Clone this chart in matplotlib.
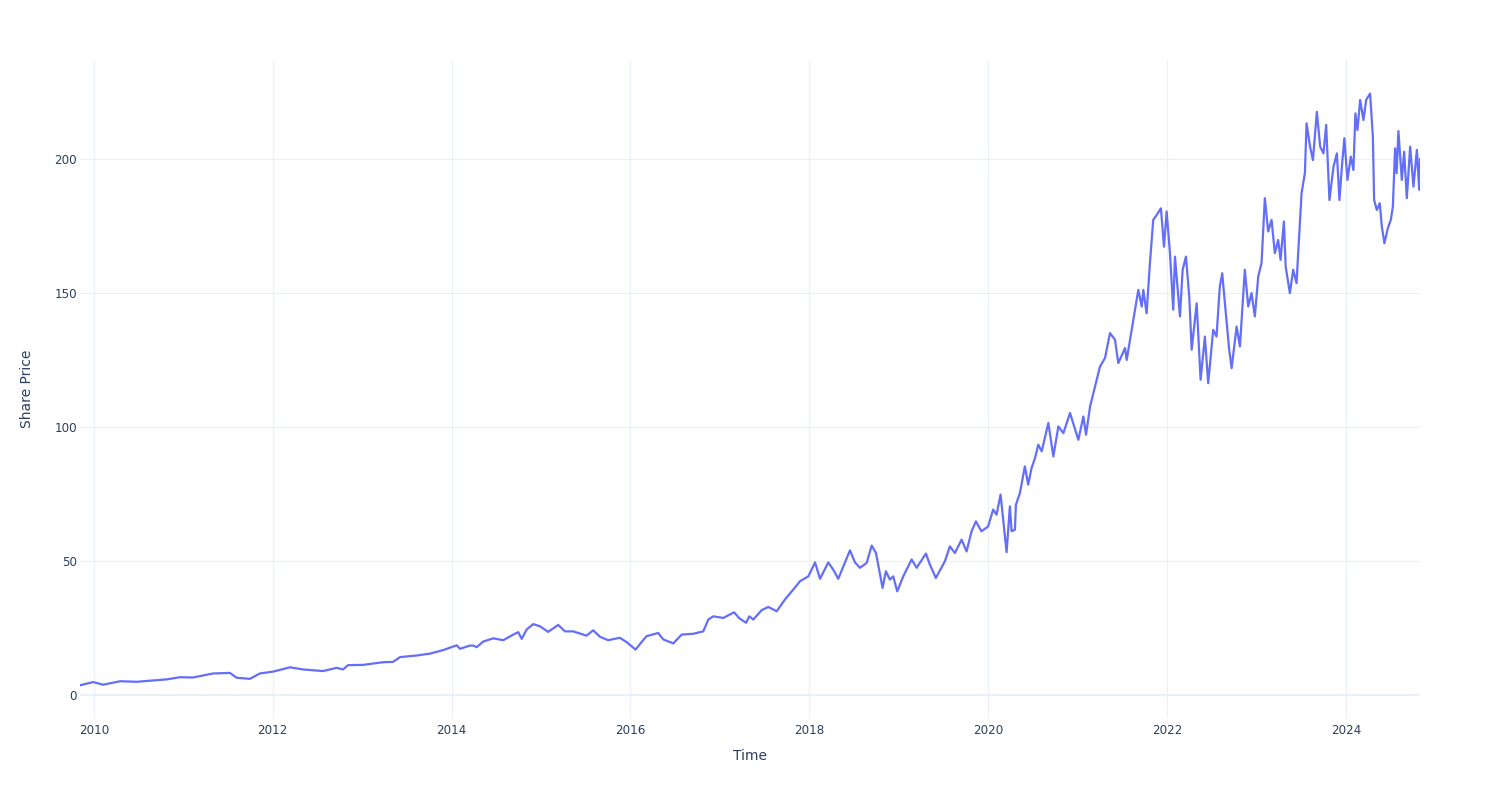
import matplotlib
matplotlib.use("Agg")
import matplotlib.pyplot as plt
import matplotlib.dates as mdates
import numpy as np
import pandas as pd

# decimal-year time stamps and share price values
years = [
    2009.843, 2009.992, 2010.101, 2010.291, 2010.477, 2010.660, 2010.813, 2010.962,
    2011.107, 2011.331, 2011.521, 2011.596, 2011.744, 2011.856, 2012.005, 2012.192,
    2012.337, 2012.561, 2012.714, 2012.784, 2012.840, 2013.008, 2013.232, 2013.343,
    2013.422, 2013.608, 2013.757, 2013.903, 2014.056, 2014.093, 2014.204, 2014.241,
    2014.279, 2014.353, 2014.465, 2014.577, 2014.689, 2014.745, 2014.783, 2014.839,
    2014.912, 2014.987, 2015.080, 2015.192, 2015.267, 2015.360, 2015.509, 2015.583,
    2015.658, 2015.751, 2015.882, 2015.957, 2016.057, 2016.124, 2016.180, 2016.310,
    2016.366, 2016.478, 2016.572, 2016.701, 2016.813, 2016.869, 2016.925, 2017.037,
    2017.157, 2017.216, 2017.291, 2017.328, 2017.372, 2017.466, 2017.540, 2017.634,
    2017.727, 2017.820, 2017.895, 2017.988, 2018.063, 2018.119, 2018.211, 2018.267,
    2018.323,
    2018.454, 2018.510, 2018.566, 2018.641, 2018.697, 2018.745, 2018.819, 2018.856,
    2018.901, 2018.938, 2018.983, 2019.050, 2019.144, 2019.200, 2019.304, 2019.348,
    2019.415, 2019.516, 2019.572, 2019.628, 2019.703, 2019.759, 2019.815, 2019.863,
    2019.926, 2020.000, 2020.056, 2020.094, 2020.139, 2020.168, 2020.206, 2020.243,
    2020.262, 2020.299, 2020.310, 2020.355, 2020.410, 2020.447, 2020.485, 2020.523,
    2020.560, 2020.598, 2020.672, 2020.728,
    2020.784, 2020.840, 2020.914, 2021.007, 2021.063, 2021.093, 2021.138, 2021.194,
    2021.249, 2021.305, 2021.361, 2021.417, 2021.454, 2021.529, 2021.548, 2021.604,
    2021.660, 2021.678, 2021.716, 2021.734, 2021.771, 2021.808, 2021.845, 2021.883,
    2021.931, 2021.965, 2021.995, 2022.032, 2022.069, 2022.088, 2022.125, 2022.144,
    2022.174, 2022.211, 2022.248, 2022.275, 2022.331, 2022.375, 2022.423, 2022.460,
    2022.516, 2022.553, 2022.590, 2022.617, 2022.647, 2022.695, 2022.722, 2022.778,
    2022.815, 2022.870, 2022.908, 2022.945, 2022.982, 2023.020, 2023.057, 2023.094,
    2023.131, 2023.169, 2023.206, 2023.243, 2023.270, 2023.307, 2023.327, 2023.374,
    2023.411, 2023.449, 2023.467, 2023.505, 2023.542, 2023.561, 2023.600, 2023.632,
    2023.676, 2023.713, 2023.750, 2023.780, 2023.817, 2023.862, 2023.900, 2023.929,
    2023.956, 2023.984, 2024.018, 2024.056, 2024.085, 2024.107, 2024.130, 2024.160,
    2024.197, 2024.227, 2024.271, 2024.302, 2024.316, 2024.346, 2024.379, 2024.402,
    2024.431, 2024.469, 2024.502, 2024.525, 2024.550, 2024.567, 2024.587, 2024.625,
    2024.651, 2024.681, 2024.718, 2024.755, 2024.793, 2024.819, 2024.828,
]
prices = [
    3.8, 5.0, 4.0, 5.3, 5.1, 5.6, 6.0, 6.8,
    6.7, 8.2, 8.4, 6.6, 6.2, 8.2, 8.9, 10.5,
    9.7, 9.1, 10.3, 9.7, 11.3, 11.4, 12.4, 12.5,
    14.3, 14.9, 15.6, 16.9, 18.7, 17.4, 18.6, 18.6,
    18.0, 20.1, 21.3, 20.6, 22.7, 23.6, 21.1, 24.6,
    26.6, 25.8, 23.7, 26.3, 23.9, 23.9, 22.3, 24.3,
    21.9, 20.6, 21.5, 19.9, 17.1, 19.9, 22.1, 23.3,
    20.9, 19.4, 22.7, 23.0, 23.9, 28.3, 29.5, 28.9,
    31.0, 28.8, 27.1, 29.5, 28.3, 31.8, 33.0, 31.4,
    35.8, 39.5, 42.6, 44.4, 49.6, 43.5, 49.6, 46.9,
    43.5,
    54.1, 49.6, 47.6, 49.4, 55.9, 53.1, 40.1, 46.3,
    43.2, 44.4, 38.8, 44.4, 50.7, 47.6, 52.9, 48.8,
    43.8, 50.0, 55.6, 53.1, 58.1, 53.7, 61.2, 64.9,
    61.2, 63.0, 69.3, 67.4, 74.9, 65.5, 53.4, 70.5,
    61.2, 61.8, 71.1, 75.5, 85.4, 78.6, 84.8, 88.5,
    93.5, 91.0, 101.6, 89.1,
    100.3, 97.8, 105.3, 95.3, 104.0, 97.2, 107.7, 115.2,
    122.6, 125.8, 135.1, 132.6, 123.9, 129.5, 125.1, 136.3,
    147.5, 151.2, 145.0, 151.2, 142.5, 161.2, 177.3, 179.1,
    181.6, 167.3, 180.4, 164.9, 143.8, 163.6, 148.7, 141.3,
    158.7, 163.6, 148.7, 128.9, 146.2, 117.7, 133.8, 116.4,
    136.3, 133.8, 152.4, 157.4, 146.2, 128.9, 122.0, 137.5,
    130.1, 158.7, 145.0, 150.0, 141.3, 156.2, 161.2, 185.4,
    173.0, 177.3, 164.9, 169.8, 162.4, 176.7, 159.9, 150.0,
    158.7, 153.7, 164.9, 187.3, 194.7, 213.3, 204.6, 199.6,
    217.6, 204.6, 202.1, 212.7, 184.7, 197.1, 202.1, 184.7,
    197.1, 207.8, 192.2, 200.9, 195.9, 217.0, 210.8, 222.0,
    214.5, 222.0, 224.4, 208.3, 184.7, 181.0, 183.5, 174.8,
    168.6, 174.2, 177.3, 182.2, 204.0, 194.7, 210.4, 192.2,
    202.7, 185.4, 204.6, 189.7, 203.4, 188.5, 200.0,
]
y_ticks = [0, 50, 100, 150, 200]
x_title = "Time"
y_title = "Share Price"


def dec_to_date(y):
    yi = int(np.floor(y))
    start = pd.Timestamp(year=yi, month=1, day=1)
    end = pd.Timestamp(year=yi + 1, month=1, day=1)
    return start + (end - start) * (y - yi)


dates = [dec_to_date(y) for y in years]

W, H = 1500, 800
fig = plt.figure(figsize=(W / 100, H / 100), dpi=100)
fig.patch.set_facecolor("white")
left, right, top, bottom = 80, 1420, 60, 718
ax = fig.add_axes([left / W, 1 - bottom / H, (right - left) / W, (bottom - top) / H])
ax.set_facecolor("white")

grid_c = "#EBF0F8"
text_c = "#2a3f5f"

ax.plot(dates, prices, color="#636efa", linewidth=1.6, zorder=3, solid_joinstyle="round")

ax.set_xlim(dates[0], dates[-1])
ax.set_ylim(-8.4, 236.9)

ax.xaxis.set_major_locator(mdates.YearLocator(2))
ax.xaxis.set_major_formatter(mdates.DateFormatter("%Y"))
ax.set_yticks(y_ticks)
ax.set_yticklabels([str(t) for t in y_ticks])

ax.grid(True, color=grid_c, linewidth=0.8, zorder=0)
ax.axhline(0, color=grid_c, linewidth=1.5, zorder=1)
for s in ax.spines.values():
    s.set_visible(False)
ax.tick_params(axis="both", length=0, colors=text_c, labelsize=8.6)
ax.tick_params(axis="x", pad=4)
ax.tick_params(axis="y", pad=2)

fig.text(750 / W, 1 - 756 / H, x_title, ha="center", va="center", color=text_c, fontsize=10)
fig.text(27 / W, 1 - 389 / H, y_title, ha="center", va="center", rotation=90,
         color=text_c, fontsize=10)

fig.savefig("out.png", dpi=100, facecolor="white")
